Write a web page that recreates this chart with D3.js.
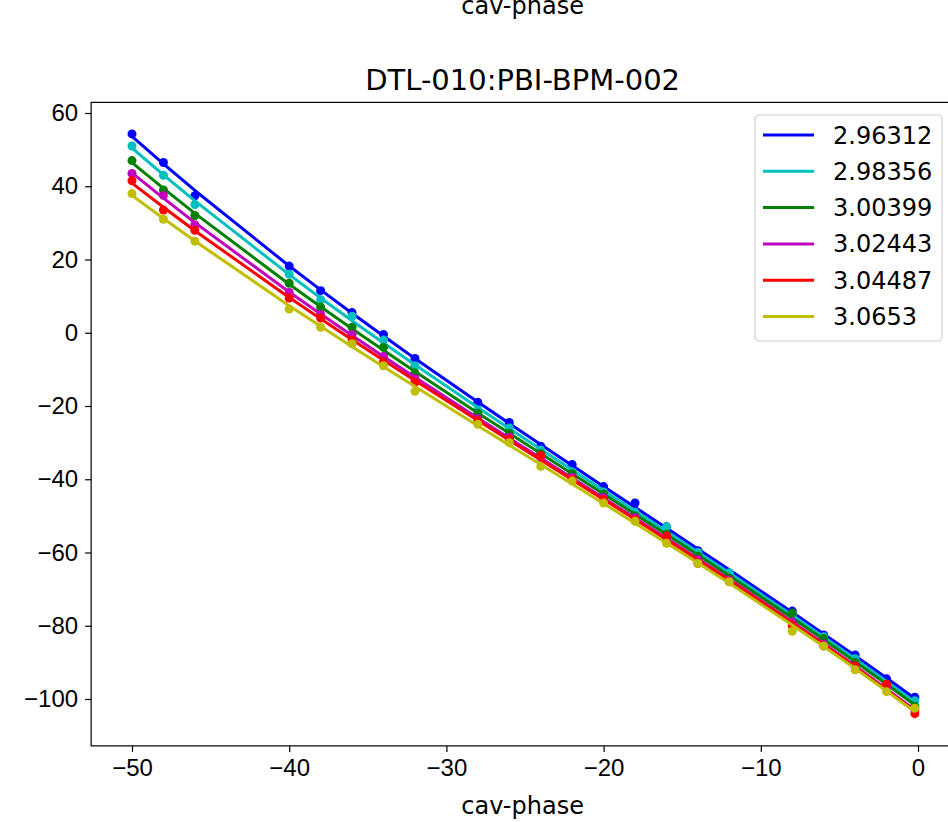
<!DOCTYPE html>
<html>
<head>
<meta charset="utf-8">
<script src="https://cdn.jsdelivr.net/npm/d3@7"></script>
<style>
  html, body { margin: 0; padding: 0; background: #fff; overflow: hidden; }
  svg { display: block; font-family: "DejaVu Sans", sans-serif; }
  .axis text { font-size: 24px; fill: #000; }
  .axis path, .axis line { stroke: #000; stroke-width: 1.2; }
</style>
</head>
<body>
<div id="chart"></div>
<script>
const WIDTH = 948;
const HEIGHT = 822;

const PHASES = [-50, -48, -46, -40, -38, -36, -34, -32, -28, -26, -24, -22,
  -20, -18, -16, -14, -12, -8, -6, -4, -2, -0.2];

const SERIES_LABELS = ["2.96312", "2.98356", "3.00399", "3.02443", "3.04487", "3.0653"];
const SERIES_COLORS = ["#0000ff", "#00bfbf", "#008000", "#bf00bf", "#ff0000", "#bfbf00"];

const blueValues = [54.3, 46.5, 37.4, 18.2, 11.5, 5.5, -0.5, -7, -19, -24.5, -31, -36,
  -42, -46.5, -53, -59.5, -66, -76, -82.5, -88, -94.5, -99.5];
const cyanValues = [51, 43, 35, 16, 9, 4.5, -2, -9, -21, -26, -32, -38,
  -43.5, -49, -53, -60, -65.5, -77, -83, -89, -96, -100.5];
const greenValues = [47, 39, 32, 13.5, 7, 1.5, -4, -11, -22, -27.5, -33, -38.5,
  -44, -50, -55, -61, -67, -76.5, -83.5, -90, -96, -102];
const magentaValues = [43.5, 37.5, 29.5, 11, 5, -0.5, -6.5, -12.5, -23.5, -28.5, -34, -39.5,
  -45, -50.5, -56, -62, -67.5, -79, -85, -91, -97, -103];
const redValues = [41.5, 33.5, 28, 9.5, 4, -2, -8, -13.5, -24, -29, -33.5, -40,
  -45.5, -51, -55.5, -63, -68, -80, -85.5, -91, -96, -104];
const yellowValues = [38, 31, 25, 6.5, 1.5, -3, -9, -16, -25, -30, -36.5, -40.5,
  -46.5, -51.5, -57.5, -63, -68, -81.5, -85.5, -92, -98, -102.5];

const X_TICKS = [-50, -40, -30, -20, -10, 0];
const Y_TICKS = [60, 40, 20, 0, -20, -40, -60, -80, -100];

const FIT_DEGREE = 3;

const series = [blueValues, cyanValues, greenValues, magentaValues, redValues, yellowValues]
  .map((values, i) => ({
    label: SERIES_LABELS[i],
    color: SERIES_COLORS[i],
    points: PHASES.map((p, j) => ({ x: p, y: values[j] })),
  }));

// least squares polynomial fit (like np.polyfit), returns f(x)
function polyFit(points, degree) {
  const n = degree + 1;
  const u = (v) => v / 50; // scale x for a well conditioned system
  const A = d3.range(n).map((r) =>
    d3.range(n).map((c) => d3.sum(points, (d) => u(d.x) ** (r + c)))
      .concat(d3.sum(points, (d) => d.y * u(d.x) ** r))
  );
  for (let i = 0; i < n; i++) {
    for (let r = i + 1; r < n; r++) {
      const f = A[r][i] / A[i][i];
      for (let c = i; c <= n; c++) A[r][c] -= f * A[i][c];
    }
  }
  const coef = new Array(n).fill(0);
  for (let i = n - 1; i >= 0; i--) {
    let s = A[i][n];
    for (let c = i + 1; c < n; c++) s -= A[i][c] * coef[c];
    coef[i] = s / A[i][i];
  }
  return (v) => d3.sum(coef, (k, i) => k * u(v) ** i);
}

const svg = d3.select("#chart")
  .append("svg")
  .attr("width", WIDTH)
  .attr("height", HEIGHT);

// plot area: -50 -> 132px, 0 -> 918px ; 60 -> 113px, -100 -> 699px
const x = d3.scaleLinear().domain([-50, 0]).range([132, 918]);
const y = d3.scaleLinear().domain([60, -100]).range([113, 699]);
const xMin = -52.6, xMax = 2.3, yMin = -112.8, yMax = 62.9;

const plotLeft = x(xMin), plotRight = x(xMax), plotTop = y(yMax), plotBottom = y(yMin);
const midX = (plotLeft + plotRight) / 2;

// label of the subplot above, cropped by the page edge
svg.append("text")
  .attr("x", midX)
  .attr("y", 14)
  .attr("text-anchor", "middle")
  .attr("font-size", 24)
  .text("cav-phase");

svg.append("text")
  .attr("x", midX)
  .attr("y", 90)
  .attr("text-anchor", "middle")
  .attr("font-size", 29)
  .text("DTL-010:PBI-BPM-002");

// —— Axes ——
const fmt = (d) => d3.format("d")(d).replace("-", "\u2212");

svg.append("g")
  .attr("class", "axis")
  .attr("transform", `translate(0,${plotBottom})`)
  .call(d3.axisBottom(x).tickValues(X_TICKS).tickSize(6).tickPadding(7).tickFormat(fmt))
  .call((g) => g.select(".domain").remove());

svg.append("g")
  .attr("class", "axis")
  .attr("transform", `translate(${plotLeft},0)`)
  .call(d3.axisLeft(y).tickValues(Y_TICKS).tickSize(6).tickPadding(7).tickFormat(fmt))
  .call((g) => g.select(".domain").remove());

svg.append("text")
  .attr("x", midX)
  .attr("y", 814)
  .attr("text-anchor", "middle")
  .attr("font-size", 24)
  .text("cav-phase");

// —— Series: fit curve + measured points ——
const plot = svg.append("g");

const fitLine = d3.line()
  .x((d) => x(d.x))
  .y((d) => y(d.fy));

series.forEach((s) => {
  const fit = polyFit(s.points, FIT_DEGREE);

  plot.append("path")
    .datum(s.points.map((d) => ({ x: d.x, fy: fit(d.x) })))
    .attr("fill", "none")
    .attr("stroke", s.color)
    .attr("stroke-width", 3)
    .attr("stroke-linejoin", "round")
    .attr("d", fitLine);

  plot.selectAll(null)
    .data(s.points)
    .join("circle")
    .attr("cx", (d) => x(d.x))
    .attr("cy", (d) => y(d.y))
    .attr("r", 4.5)
    .attr("fill", s.color);
});

// frame
svg.append("rect")
  .attr("x", plotLeft).attr("y", plotTop)
  .attr("width", plotRight - plotLeft).attr("height", plotBottom - plotTop)
  .attr("fill", "none")
  .attr("stroke", "#000")
  .attr("stroke-width", 1.2);

// —— Legend ——
const legend = svg.append("g").attr("transform", "translate(755,115)");

legend.append("rect")
  .attr("width", 187).attr("height", 226)
  .attr("rx", 4)
  .attr("fill", "#fff").attr("fill-opacity", 0.8)
  .attr("stroke", "#d0d0d0").attr("stroke-width", 1.2);

const legendRow = legend.selectAll(".legend-item")
  .data(series)
  .join("g")
  .attr("class", "legend-item")
  .attr("transform", (_, i) => `translate(0,${20 + i * 36.3})`);

legendRow.append("line")
  .attr("x1", 8).attr("x2", 59)
  .attr("stroke", (d) => d.color)
  .attr("stroke-width", 3);

legendRow.append("text")
  .attr("x", 78)
  .attr("y", 8.5)
  .attr("font-size", 24)
  .text((d) => d.label);
</script>
</body>
</html>
